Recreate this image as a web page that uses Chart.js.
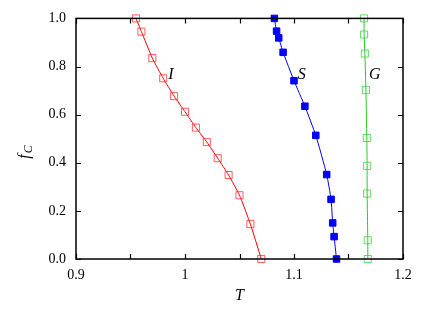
<!DOCTYPE html>
<html>
<head>
<meta charset="utf-8">
<script src="https://cdn.jsdelivr.net/npm/chart.js@4.4.0/dist/chart.umd.min.js"></script>
<style>
  html, body { margin: 0; padding: 0; background: #fff; }
  #wrap { width: 436px; height: 309px; }
</style>
</head>
<body>
<div id="wrap"><canvas id="chart" width="436" height="309"></canvas></div>
<script>
// Curve I (open red squares)
const tI = [0.955, 0.960, 0.970, 0.980, 0.990, 1.000, 1.010, 1.020, 1.030, 1.040, 1.050, 1.060, 1.070];
const fI = [1.000, 0.945, 0.835, 0.751, 0.677, 0.612, 0.546, 0.486, 0.419, 0.349, 0.265, 0.145, 0.000];

// Curve S (filled blue squares)
const tS = [1.082, 1.084, 1.086, 1.090, 1.100, 1.110, 1.120, 1.130, 1.134, 1.1355, 1.1368, 1.139];
const fS = [1.000, 0.947, 0.919, 0.859, 0.741, 0.635, 0.514, 0.351, 0.248, 0.150, 0.093, 0.000];

// Curve G (open green squares)
const tG = [1.1643, 1.1643, 1.165, 1.166, 1.1668, 1.1671, 1.1671, 1.1677, 1.1677];
const fG = [1.000, 0.933, 0.854, 0.702, 0.503, 0.387, 0.272, 0.078, 0.000];

// curve labels
const curveLabels = ["I", "S", "G"];
const labelT = [0.987, 1.107, 1.174];
const labelF = [0.765, 0.765, 0.765];

const xTicks = [0.9, 1.0, 1.1, 1.2];
const yTicks = [0.0, 0.2, 0.4, 0.6, 0.8, 1.0];

const toPoints = (xs, ys) => xs.map((x, i) => ({ x: x, y: ys[i] }));

const serif = "'Liberation Serif', 'DejaVu Serif', serif";

// inward ticks on all four sides, full frame, curve labels and y title
const framePlugin = {
  id: "frame",
  afterDraw(chart) {
    const { ctx, chartArea: a, scales } = chart;
    const xs = scales.x, ys = scales.y;
    ctx.save();
    ctx.strokeStyle = "#000";
    ctx.lineWidth = 1.2;
    const len = 5;
    xs.ticks.forEach((t) => {
      const px = Math.round(xs.getPixelForValue(t.value)) + 0.5;
      ctx.beginPath();
      ctx.moveTo(px, a.bottom); ctx.lineTo(px, a.bottom - len);
      ctx.moveTo(px, a.top); ctx.lineTo(px, a.top + len);
      ctx.stroke();
    });
    ys.ticks.forEach((t) => {
      const py = Math.round(ys.getPixelForValue(t.value)) + 0.5;
      ctx.beginPath();
      ctx.moveTo(a.left, py); ctx.lineTo(a.left + len, py);
      ctx.moveTo(a.right, py); ctx.lineTo(a.right - len, py);
      ctx.stroke();
    });
    ctx.lineWidth = 1.5;
    ctx.strokeRect(a.left, a.top, a.right - a.left, a.bottom - a.top);

    // curve labels
    ctx.fillStyle = "#000";
    ctx.font = "italic 16px " + serif;
    ctx.textAlign = "center";
    ctx.textBaseline = "middle";
    curveLabels.forEach((s, i) => {
      ctx.fillText(s, xs.getPixelForValue(labelT[i]), ys.getPixelForValue(labelF[i]));
    });

    // y axis title f_C
    ctx.translate(24, (a.top + a.bottom) / 2 + 20);
    ctx.rotate(-Math.PI / 2);
    ctx.textAlign = "left";
    ctx.textBaseline = "alphabetic";
    ctx.font = "italic 16px " + serif;
    ctx.fillText("f", 0, 5);
    const w = ctx.measureText("f").width;
    ctx.font = "italic 12px " + serif;
    ctx.fillText("C", w + 1, 8);
    ctx.restore();
  }
};

const sharedLine = {
  showLine: true,
  clip: false,
  borderWidth: 1,
  pointStyle: "rect",
  pointRadius: 5,
  pointHoverRadius: 5,
  pointBorderWidth: 1,
  tension: 0.15
};

new Chart(document.getElementById("chart"), {
  type: "scatter",
  data: {
    datasets: [
      Object.assign({}, sharedLine, {
        label: "I",
        data: toPoints(tI, fI),
        borderColor: "#ff0000",
        pointBorderColor: "rgba(255,40,40,0.75)",
        pointBackgroundColor: "rgba(255,255,255,0)"
      }),
      Object.assign({}, sharedLine, {
        label: "S",
        data: toPoints(tS, fS),
        borderColor: "#0000ff",
        pointBorderColor: "#0000ff",
        pointBackgroundColor: "#0000ff",
        pointRadius: 4.6
      }),
      Object.assign({}, sharedLine, {
        label: "G",
        data: toPoints(tG, fG),
        borderColor: "#22cc22",
        pointBorderColor: "rgba(60,210,60,0.8)",
        pointBackgroundColor: "rgba(255,255,255,0)"
      })
    ]
  },
  options: {
    responsive: false,
    animation: false,
    layout: { padding: { left: 0, right: 33, top: 16, bottom: 0 } },
    plugins: {
      legend: { display: false },
      tooltip: { enabled: false }
    },
    scales: {
      x: {
        type: "linear",
        min: 0.9,
        max: 1.2,
        afterFit: (s) => { s.height = 50; },
        ticks: {
          stepSize: 0.05,
          autoSkip: false,
          maxRotation: 0,
          padding: 8,
          color: "#000",
          font: { family: serif, size: 14 },
          callback: (v) => {
            const hit = xTicks.find((t) => Math.abs(t - v) < 1e-6);
            if (hit === undefined) return "";
            return hit === 1 ? "1" : hit.toFixed(1);
          }
        },
        grid: { display: false, drawTicks: false },
        border: { display: false },
        title: {
          display: true,
          text: "T",
          color: "#000",
          padding: { top: 6 },
          font: { family: serif, size: 16, style: "italic" }
        }
      },
      y: {
        type: "linear",
        min: 0,
        max: 1,
        afterFit: (s) => { s.width = 76; },
        ticks: {
          stepSize: 0.2,
          padding: 10,
          color: "#000",
          font: { family: serif, size: 14 },
          callback: (v) => {
            const hit = yTicks.find((t) => Math.abs(t - v) < 1e-6);
            return hit === undefined ? "" : hit.toFixed(1);
          }
        },
        grid: { display: false, drawTicks: false },
        border: { display: false }
      }
    }
  },
  plugins: [framePlugin]
});
</script>
</body>
</html>
